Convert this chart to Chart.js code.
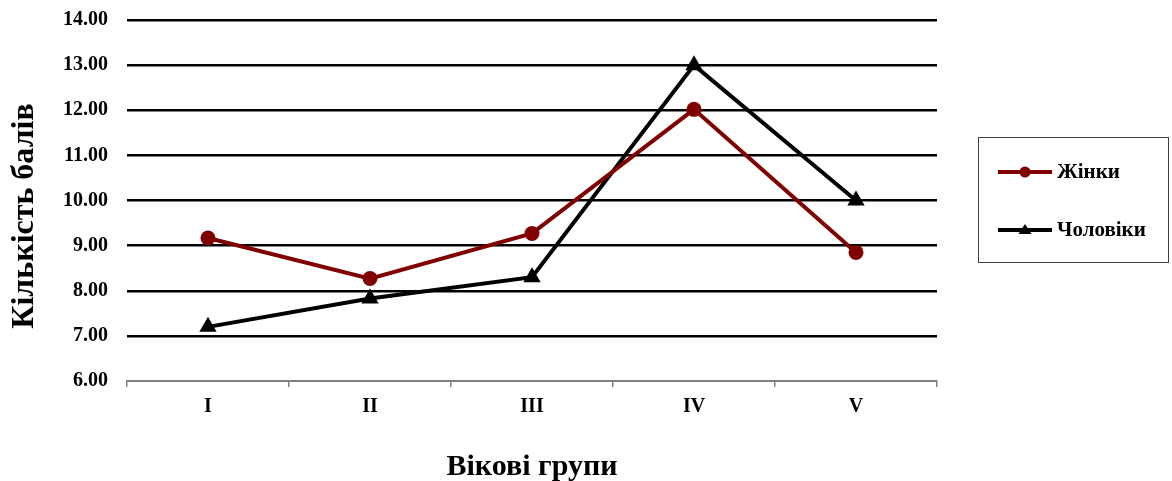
<!DOCTYPE html>
<html>
<head>
<meta charset="utf-8">
<script src="https://cdn.jsdelivr.net/npm/chart.js@4.4.1/dist/chart.umd.min.js"></script>
<style>
  html, body { margin: 0; padding: 0; background: #ffffff; }
  #wrap { width: 1172px; height: 481px; position: relative; }
</style>
</head>
<body>
<div id="wrap"><canvas id="chart" width="1172" height="481"></canvas></div>
<script>
// Age groups on the x axis
const categories = ['I', 'II', 'III', 'IV', 'V'];
// Average scores per age group
const womenScores = [9.17, 8.27, 9.27, 12.02, 8.85];
const menScores = [7.20, 7.83, 8.30, 13.00, 10.00];
// Series names
const seriesNames = ['Жінки', 'Чоловіки'];
// Value axis range and axis titles
const yMin = 6, yMax = 14, yStep = 1;
const xTitle = 'Вікові групи';
const yTitle = 'Кількість балів';

const SERIF = '"Liberation Serif", "Times New Roman", serif';
const RED = '#800000';

// Axis titles and framed legend drawn on top of the chart
const decorPlugin = {
  id: 'decor',
  afterDraw(chart) {
    const ctx = chart.ctx;
    ctx.save();
    ctx.fillStyle = '#000';
    ctx.font = 'bold 30px ' + SERIF;
    ctx.textAlign = 'center';
    ctx.textBaseline = 'alphabetic';
    ctx.fillText(xTitle, 532, 475);

    ctx.save();
    ctx.translate(33, 216);
    ctx.rotate(-Math.PI / 2);
    ctx.font = 'bold 32px ' + SERIF;
    ctx.fillText(yTitle, 0, 0);
    ctx.restore();

    // legend frame
    ctx.strokeStyle = '#404040';
    ctx.lineWidth = 1;
    ctx.strokeRect(978.5, 137.5, 190, 125);

    const rows = [172, 230];
    chart.data.datasets.forEach((ds, i) => {
      const y = rows[i];
      ctx.strokeStyle = ds.borderColor;
      ctx.lineWidth = 4;
      ctx.beginPath();
      ctx.moveTo(998, y);
      ctx.lineTo(1052, y);
      ctx.stroke();
      ctx.fillStyle = ds.pointBackgroundColor;
      ctx.beginPath();
      if (ds.pointStyle === 'triangle') {
        ctx.moveTo(1025, y - 6);
        ctx.lineTo(1031.5, y + 4);
        ctx.lineTo(1018.5, y + 4);
        ctx.closePath();
      } else {
        ctx.arc(1025, y, 5.5, 0, Math.PI * 2);
      }
      ctx.fill();
      ctx.fillStyle = '#000';
      ctx.font = 'bold 21px ' + SERIF;
      ctx.textAlign = 'left';
      ctx.textBaseline = 'middle';
      ctx.fillText(ds.label, 1057, y + 1);
    });
    ctx.restore();
  }
};

const bgPlugin = {
  id: 'bg',
  beforeDraw(chart) {
    const ctx = chart.ctx;
    ctx.save();
    ctx.fillStyle = '#fff';
    ctx.fillRect(0, 0, chart.width, chart.height);
    ctx.restore();
  }
};

new Chart(document.getElementById('chart'), {
  type: 'line',
  data: {
    labels: categories,
    datasets: [
      {
        label: seriesNames[0],
        data: womenScores,
        borderColor: RED,
        backgroundColor: RED,
        pointBackgroundColor: RED,
        pointBorderColor: RED,
        pointStyle: 'circle',
        pointRadius: 7.5,
        pointBorderWidth: 0,
        borderWidth: 4,
        tension: 0
      },
      {
        label: seriesNames[1],
        data: menScores,
        borderColor: '#000',
        backgroundColor: '#000',
        pointBackgroundColor: '#000',
        pointBorderColor: '#000',
        pointStyle: 'triangle',
        pointRadius: 10,
        pointBorderWidth: 0,
        borderWidth: 4,
        tension: 0
      }
    ]
  },
  options: {
    responsive: false,
    animation: false,
    events: [],
    layout: { padding: { left: 0, top: 20, right: 235, bottom: 0 } },
    plugins: { legend: { display: false }, tooltip: { enabled: false } },
    scales: {
      x: {
        offset: true,
        afterFit(scale) {
          scale.height = 100;
          scale.paddingLeft = 0;
          scale.paddingRight = 0;
        },
        border: { display: true, color: '#808080', width: 2 },
        grid: {
          display: true,
          offset: true,
          drawOnChartArea: false,
          drawTicks: true,
          tickLength: 6,
          color: '#808080',
          lineWidth: 1.5
        },
        ticks: {
          color: '#000',
          padding: 8,
          font: { family: SERIF, size: 20, weight: 'bold' },
          maxRotation: 0
        }
      },
      y: {
        min: yMin,
        max: yMax,
        afterFit(scale) {
          scale.width = 127;
          scale.paddingTop = 0;
          scale.paddingBottom = 0;
        },
        border: { display: false },
        grid: {
          drawTicks: false,
          color: (c) => (c.tick && c.tick.value === yMin ? 'rgba(0,0,0,0)' : '#000'),
          lineWidth: 2.5
        },
        ticks: {
          stepSize: yStep,
          color: '#000',
          padding: 19,
          font: { family: SERIF, size: 20, weight: 'bold' },
          callback: (v) => Number(v).toFixed(2)
        }
      }
    }
  },
  plugins: [bgPlugin, decorPlugin]
});
</script>
</body>
</html>
